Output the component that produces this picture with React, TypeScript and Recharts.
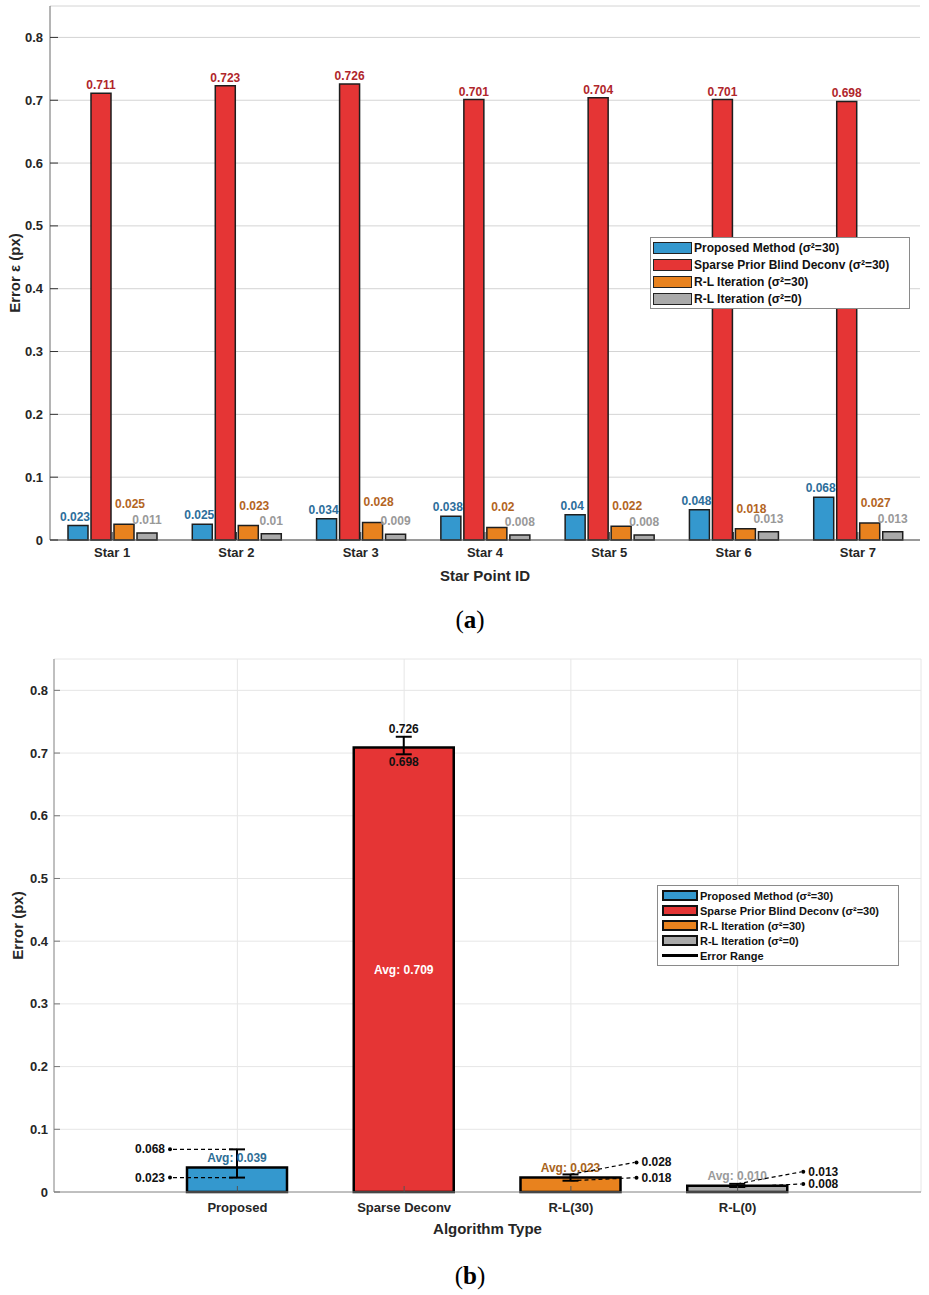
import React from 'react';
import {
  BarChart,
  Bar,
  XAxis,
  YAxis,
  CartesianGrid,
  Legend,
  LabelList,
  Label,
  ErrorBar,
  Cell,
} from 'recharts';

// ---------- data: chart (a) ----------
const starIds = ['Star 1', 'Star 2', 'Star 3', 'Star 4', 'Star 5', 'Star 6', 'Star 7'];
const proposedErr = [0.023, 0.025, 0.034, 0.038, 0.04, 0.048, 0.068];
const sparseErr = [0.711, 0.723, 0.726, 0.701, 0.704, 0.701, 0.698];
const rl30Err = [0.025, 0.023, 0.028, 0.02, 0.022, 0.018, 0.027];
const rl0Err = [0.011, 0.01, 0.009, 0.008, 0.008, 0.013, 0.013];
const yTicks = [0, 0.1, 0.2, 0.3, 0.4, 0.5, 0.6, 0.7, 0.8];
const seriesNames = [
  'Proposed Method (σ²=30)',
  'Sparse Prior Blind Deconv (σ²=30)',
  'R-L Iteration (σ²=30)',
  'R-L Iteration (σ²=0)',
];

// ---------- data: chart (b) ----------
const algorithms = ['Proposed', 'Sparse Deconv', 'R-L(30)', 'R-L(0)'];
const avgErr = [0.039, 0.709, 0.023, 0.01];
const minErr = [0.023, 0.698, 0.018, 0.008];
const maxErr = [0.068, 0.726, 0.028, 0.013];
const errorRangeName = 'Error Range';

// ---------- styles ----------
const FILL = ['#3498CE', '#E53535', '#E8821E', '#AAAAAA'];
const TEXT = ['#2D6E9B', '#B0262B', '#B3651F', '#999999'];
const AVG_TEXT = ['#2E6E96', '#FFFFFF', '#A86420', '#9A9A9A'];
const FONT = '"Liberation Sans", Arial, Helvetica, sans-serif';

const topData = starIds.map((s, i) => ({
  star: s,
  proposed: proposedErr[i],
  sparse: sparseErr[i],
  rl30: rl30Err[i],
  rl0: rl0Err[i],
}));

const botData = algorithms.map((a, i) => ({
  alg: a,
  avg: avgErr[i],
  err: [avgErr[i] - minErr[i], maxErr[i] - avgErr[i]],
}));

const getBox = (props: any) => {
  const vb = props.viewBox && props.viewBox.width !== undefined ? props.viewBox : props;
  return {
    x: Number(vb.x ?? props.x),
    y: Number(vb.y ?? props.y),
    w: Number(vb.width ?? props.width),
    h: Number(vb.height ?? props.height),
  };
};

const topLabel = (color: string, dx: number, dy: number) => (props: any) => {
  const { x, y, w } = getBox(props);
  return (
    <text
      x={x + w / 2 + dx}
      y={y + dy}
      fill={color}
      textAnchor="middle"
      dominantBaseline="central"
      fontSize={12}
      fontWeight="bold"
      fontFamily={FONT}
    >
      {String(props.value)}
    </text>
  );
};

const txt = {
  fontSize: 12,
  fontWeight: 'bold' as const,
  fontFamily: FONT,
  dominantBaseline: 'central' as const,
};

const botAnnotation = (props: any) => {
  const { x, y, w, h } = getBox(props);
  const i = Number(props.index);
  if (!Number.isFinite(i) || !(avgErr[i] > 0)) return null;
  const zeroY = y + h;
  const ppu = h / avgErr[i];
  const yOf = (v: number) => zeroY - v * ppu;
  const cx = x + w / 2;
  const yMax = yOf(maxErr[i]);
  const yMin = yOf(minErr[i]);
  const out: React.ReactNode[] = [];
  const avgText = `Avg: ${avgErr[i].toFixed(3)}`;
  if (i === 1) {
    out.push(
      <text key="mx" x={cx} y={yMax - 8} textAnchor="middle" fill="#111" {...txt}>
        {maxErr[i].toFixed(3)}
      </text>,
      <text key="mn" x={cx} y={yMin + 8} textAnchor="middle" fill="#111" {...txt}>
        {minErr[i].toFixed(3)}
      </text>,
      <text key="avg" x={cx} y={y + h / 2} textAnchor="middle" fill={AVG_TEXT[i]} {...txt}>
        {avgText}
      </text>
    );
  } else if (i === 0) {
    [maxErr[i], minErr[i]].forEach((v, k) => {
      const yy = yOf(v);
      out.push(
        <line key={`l${k}`} x1={cx - 64} y1={yy} x2={cx} y2={yy} stroke="#000" strokeWidth={1.2} strokeDasharray="4 3" />,
        <circle key={`c${k}`} cx={cx - 67} cy={yy} r={2} fill="#000" />,
        <text key={`t${k}`} x={cx - 72} y={yy} textAnchor="end" fill="#111" {...txt}>
          {v.toFixed(3)}
        </text>
      );
    });
    out.push(
      <text key="avg" x={cx} y={y - 9.5} textAnchor="middle" fill={AVG_TEXT[i]} {...txt}>
        {avgText}
      </text>
    );
  } else {
    out.push(
      <text key="avg" x={cx} y={y - 9.5} textAnchor="middle" fill={AVG_TEXT[i]} {...txt}>
        {avgText}
      </text>
    );
    [
      [maxErr[i], yMax, -12],
      [minErr[i], yMin, -3],
    ].forEach(([v, yy, dy], k) => {
      const ty = yy + dy;
      out.push(
        <line key={`l${k}`} x1={cx} y1={yy} x2={cx + 64} y2={ty} stroke="#000" strokeWidth={1.2} strokeDasharray="4 3" />,
        <circle key={`c${k}`} cx={cx + 66} cy={ty} r={2} fill="#000" />,
        <text key={`t${k}`} x={cx + 71} y={ty} textAnchor="start" fill="#111" {...txt}>
          {v.toFixed(3)}
        </text>
      );
    });
  }
  return <g>{out}</g>;
};

const TopLegend = () => (
  <div
    style={{
      border: '1px solid #8a8a8a',
      background: '#fff',
      padding: '1px 2px',
      boxSizing: 'border-box',
      width: 260,
    }}
  >
    {seriesNames.map((n, i) => (
      <div key={n} style={{ display: 'flex', alignItems: 'center', height: 17 }}>
        <div
          style={{
            width: 39,
            height: 12,
            background: FILL[i],
            border: '1.5px solid #222',
            boxSizing: 'border-box',
            marginRight: 2,
            flex: 'none',
          }}
        />
        <span style={{ font: `bold 12px ${FONT}`, color: '#111', whiteSpace: 'nowrap' }}>{n}</span>
      </div>
    ))}
  </div>
);

const BotLegend = () => (
  <div
    style={{
      border: '1px solid #8a8a8a',
      background: '#fff',
      padding: '2px 4px',
      boxSizing: 'border-box',
      width: 242,
    }}
  >
    {seriesNames.map((n, i) => (
      <div key={n} style={{ display: 'flex', alignItems: 'center', height: 15 }}>
        <div
          style={{
            width: 36,
            height: 11,
            background: FILL[i],
            border: '2px solid #111',
            boxSizing: 'border-box',
            marginRight: 2,
            flex: 'none',
          }}
        />
        <span style={{ font: `bold 11px ${FONT}`, color: '#111', whiteSpace: 'nowrap' }}>{n}</span>
      </div>
    ))}
    <div style={{ display: 'flex', alignItems: 'center', height: 15 }}>
      <div style={{ width: 36, height: 3, background: '#000', marginRight: 2, flex: 'none' }} />
      <span style={{ font: `bold 11px ${FONT}`, color: '#111', whiteSpace: 'nowrap' }}>{errorRangeName}</span>
    </div>
  </div>
);

const axisLabel = (text: string, mode: 'x' | 'y', pos: number) => (props: any) => {
  const vb = props.viewBox || {};
  if (mode === 'x') {
    return (
      <text
        x={vb.x + vb.width / 2}
        y={vb.y + pos}
        textAnchor="middle"
        dominantBaseline="central"
        fontSize={15}
        fontWeight="bold"
        fill="#262626"
        fontFamily={FONT}
      >
        {text}
      </text>
    );
  }
  const cy = vb.y + vb.height / 2;
  return (
    <text
      x={pos}
      y={cy}
      transform={`rotate(-90 ${pos} ${cy})`}
      textAnchor="middle"
      dominantBaseline="central"
      fontSize={15}
      fontWeight="bold"
      fill="#262626"
      fontFamily={FONT}
    >
      {text}
    </text>
  );
};

const tickStyle = { fill: '#262626', fontSize: 13, fontWeight: 'bold' as const, fontFamily: FONT };

const TopChart = () => (
  <BarChart
    width={929}
    height={600}
    data={topData}
    margin={{ top: 6, right: 9, bottom: 0, left: 0 }}
    barSize={20}
    barGap={3}
  >
    <CartesianGrid vertical={false} stroke="#d4d4d4" strokeWidth={1} />
    <XAxis
      dataKey="star"
      height={60}
      interval={0}
      tickSize={-8}
      tickMargin={16}
      axisLine={{ stroke: '#4a4a4a' }}
      tickLine={{ stroke: '#333' }}
      tick={tickStyle}
    >
      <Label content={axisLabel('Star Point ID', 'x', 35)} />
    </XAxis>
    <XAxis
      xAxisId="top"
      dataKey="star"
      orientation="top"
      height={0}
      interval={0}
      tickSize={-8}
      tick={false}
      axisLine={{ stroke: '#8a8a8a' }}
      tickLine={{ stroke: '#333' }}
    />
    <YAxis
      domain={[0, 0.85]}
      ticks={yTicks}
      width={50}
      tickSize={-8}
      tickMargin={15}
      axisLine={{ stroke: '#6a6a6a' }}
      tickLine={{ stroke: '#333' }}
      tick={tickStyle}
    >
      <Label content={axisLabel('Error ε (px)', 'y', 14)} />
    </YAxis>
    <YAxis
      yAxisId="right"
      orientation="right"
      domain={[0, 0.85]}
      ticks={yTicks}
      width={0}
      tickSize={-8}
      tick={false}
      axisLine={{ stroke: '#8a8a8a' }}
      tickLine={{ stroke: '#333' }}
    />
    <Legend
      layout="horizontal"
      verticalAlign="middle"
      align="center"
      content={() => <TopLegend />}
      wrapperStyle={{ left: 650, top: 237, width: 260, height: 71 }}
    />
    <Bar dataKey="proposed" name={seriesNames[0]} fill={FILL[0]} stroke="#1e1e1e" strokeWidth={1.5} isAnimationActive={false}>
      <LabelList dataKey="proposed" content={topLabel(TEXT[0], -3, -9)} />
    </Bar>
    <Bar dataKey="sparse" name={seriesNames[1]} fill={FILL[1]} stroke="#1e1e1e" strokeWidth={1.5} isAnimationActive={false}>
      <LabelList dataKey="sparse" content={topLabel(TEXT[1], 0, -8)} />
    </Bar>
    <Bar dataKey="rl30" name={seriesNames[2]} fill={FILL[2]} stroke="#1e1e1e" strokeWidth={1.5} isAnimationActive={false}>
      <LabelList dataKey="rl30" content={topLabel(TEXT[2], 6, -20)} />
    </Bar>
    <Bar dataKey="rl0" name={seriesNames[3]} fill={FILL[3]} stroke="#1e1e1e" strokeWidth={1.5} isAnimationActive={false}>
      <LabelList dataKey="rl0" content={topLabel(TEXT[3], 0, -13)} />
    </Bar>
  </BarChart>
);

const BottomChart = () => (
  <BarChart
    width={929}
    height={620}
    data={botData}
    margin={{ top: 19, right: 8, bottom: 0, left: 0 }}
  >
    <CartesianGrid stroke="#e6e6e6" strokeWidth={1} />
    <XAxis
      dataKey="alg"
      height={68}
      interval={0}
      padding={{ left: 100, right: 100 }}
      tickSize={-6}
      tickMargin={17}
      axisLine={{ stroke: '#8c8c8c' }}
      tickLine={{ stroke: '#555' }}
      tick={tickStyle}
    >
      <Label content={axisLabel('Algorithm Type', 'x', 36)} />
    </XAxis>
    <XAxis
      xAxisId="top"
      dataKey="alg"
      orientation="top"
      height={0}
      interval={0}
      padding={{ left: 100, right: 100 }}
      tickSize={-6}
      tick={false}
      axisLine={{ stroke: '#8c8c8c' }}
      tickLine={{ stroke: '#777' }}
    />
    <YAxis
      domain={[0, 0.85]}
      ticks={yTicks}
      width={54}
      tickSize={-6}
      tickMargin={12}
      axisLine={{ stroke: '#8c8c8c' }}
      tickLine={{ stroke: '#777' }}
      tick={tickStyle}
    >
      <Label content={axisLabel('Error (px)', 'y', 17)} />
    </YAxis>
    <YAxis
      yAxisId="right"
      orientation="right"
      domain={[0, 0.85]}
      ticks={yTicks}
      width={0}
      tickSize={-8}
      tick={false}
      axisLine={{ stroke: '#8c8c8c' }}
      tickLine={{ stroke: '#777' }}
    />
    <Legend
      layout="horizontal"
      verticalAlign="middle"
      align="center"
      content={() => <BotLegend />}
      wrapperStyle={{ left: 657, top: 245, width: 242, height: 80 }}
    />
    <Bar dataKey="avg" barSize={100} stroke="#000" strokeWidth={2.5} isAnimationActive={false}>
      {botData.map((d, i) => (
        <Cell key={d.alg} fill={FILL[i]} />
      ))}
      <ErrorBar dataKey="err" width={8} strokeWidth={2} stroke="#000" direction="y" isAnimationActive={false} />
      <LabelList dataKey="avg" content={botAnnotation} />
    </Bar>
  </BarChart>
);

const captionStyle: React.CSSProperties = {
  position: 'absolute',
  left: 0,
  width: 940,
  textAlign: 'center',
  fontFamily: '"Liberation Serif", "Times New Roman", serif',
  fontSize: 25,
  color: '#000',
  lineHeight: '30px',
};

export default function App() {
  return (
    <div
      style={{
        position: 'absolute',
        left: 0,
        top: 0,
        width: 929,
        height: 1295,
        background: '#fff',
        fontFamily: FONT,
        overflow: 'hidden',
      }}
    >
      <div style={{ position: 'absolute', left: 0, top: 0 }}>
        <TopChart />
      </div>
      <div style={{ ...captionStyle, top: 605 }}>
        (<b>a</b>)
      </div>
      <div style={{ position: 'absolute', left: 0, top: 640 }}>
        <BottomChart />
      </div>
      <div style={{ ...captionStyle, top: 1261 }}>
        (<b>b</b>)
      </div>
    </div>
  );
}
